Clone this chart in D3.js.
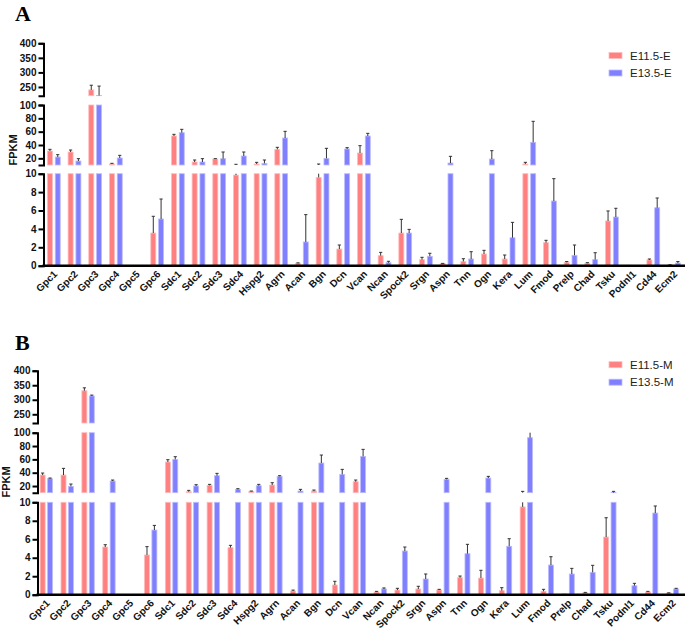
<!DOCTYPE html>
<html>
<head>
<meta charset="utf-8">
<script src="https://cdn.jsdelivr.net/npm/d3@7"></script>
<style>
  body { margin: 0; background: #fff; }
  svg { display: block; }
  .tick text { font-family: Arial, "Liberation Sans", sans-serif; font-weight: bold; font-size: 10px; fill: #111; }
</style>
</head>
<body>
<svg id="chart" width="685" height="633"></svg>
<script>
const genes = ["Gpc1","Gpc2","Gpc3","Gpc4","Gpc5","Gpc6","Sdc1","Sdc2","Sdc3","Sdc4","Hspg2","Agrn","Acan","Bgn","Dcn","Vcan","Ncan","Spock2","Srgn","Aspn","Tnn","Ogn","Kera","Lum","Fmod","Prelp","Chad","Tsku","Podnl1","Cd44","Ecm2"];

// Panel A (E)
const e11E    = [31,29.5,240,11.5,0,3.55,53.5,14.5,19,9.85,11.5,33.5,0.26,9.6,1.81,28,1.09,3.55,0.66,0.22,0.47,1.27,0.73,11.5,2.5,0.37,0.26,4.86,0.05,0.62,0.08];
const e11EErr = [2.5,3,16,1,0,1.82,2.5,3,0.5,1.2,2.5,3,0.05,1.9,0.44,11,0.36,1.49,0.25,0.03,0.29,0.4,0.43,2.5,0.26,0.08,0.07,1.09,0,0.11,0.02];
const e13E    = [22,16,221,20.5,0,5.08,58.5,14.5,19.5,23.5,12.5,50.5,2.58,20,34,53.5,0.33,3.55,1.02,13,0.73,19,3.04,44,7.03,1.13,0.66,5.29,0.02,6.3,0.29];
const e13EErr = [3.5,3.5,32,4,0,2.17,5,5,10,6,5,10,2.97,15,2,4,0.15,0.4,0.33,10,0.79,12.5,1.67,31.5,2.43,1.12,0.75,0.95,0,1.06,0.16];

// Panel B (M)
const e11M    = [36.5,36.5,331,5.16,0,4.3,56,11.5,21,5.09,12,21.5,0.4,12.5,1.05,26.5,0.29,0.51,0.62,0.51,1.84,1.8,0.44,9.5,0.37,0.1,0.2,6.24,0,0.29,0.18];
const e11MErr = [3,10,10,0.25,0,0.9,3.5,2,1.5,0.25,0.5,3.5,0.1,1.5,0.4,2.5,0.07,0.18,0.29,0.07,0.18,0.84,0.32,2.5,0.21,0,0.05,2.09,0,0.07,0.02];
const e13M    = [31,19.5,313,27.5,0,7.0,60,20,35.5,15,20.5,34.5,12.5,54.5,37.5,64.5,0.62,4.73,1.7,30,4.44,32,5.24,92.5,3.21,2.24,2.42,10.2,0.97,8.84,0.62];
const e13MErr = [1,3.5,3,1.5,0,0.5,4,2,3.5,1,2,1,2.5,12,7.5,10.5,0.11,0.43,0.54,1.5,1.01,2.5,0.82,8,0.9,0.61,0.76,1.8,0.26,0.76,0.07];

const seriesColors = ["#ff8080", "#8080ff"];
const seriesStroke = ["#ffbcbc", "#bcbcff"];

// y-axis segments (values)
const topTicks = [250,300,350,400];
const midTicks = [20,40,60,80,100];
const lowTicks = [0,2,4,6,8,10];

const svg = d3.select("#chart");

function panel(cfg) {
  const g = svg.append("g");
  const x = d3.scaleBand().domain(genes).range(cfg.xRange).padding(0);
  const segs = [
    { y: d3.scaleLinear().domain([220, 400]).range(cfg.top), ticks: topTicks },
    { y: d3.scaleLinear().domain([10, 100]).range(cfg.mid), ticks: midTicks },
    { y: d3.scaleLinear().domain([0, 10]).range(cfg.low), ticks: lowTicks }
  ];
  const series = [
    { v: cfg.s1, e: cfg.s1e, off: -cfg.barOff, c: 0 },
    { v: cfg.s2, e: cfg.s2e, off: cfg.barOff, c: 1 }
  ];
  const bw = cfg.barW;

  segs.forEach(seg => {
    const [d0, d1] = seg.y.domain();
    series.forEach(s => {
      const bars = genes.map((gname, i) => ({ g: gname, v: s.v[i], e: s.e[i] }))
        .filter(d => d.v > d0);
      g.append("g").selectAll("rect").data(bars).join("rect")
        .attr("x", d => x(d.g) + x.bandwidth() / 2 + s.off - bw / 2)
        .attr("width", bw)
        .attr("y", d => seg.y(Math.min(d.v, d1)))
        .attr("height", d => seg.y(d0) - seg.y(Math.min(d.v, d1)))
        .attr("fill", seriesColors[s.c])
        .attr("stroke", seriesStroke[s.c])
        .attr("stroke-width", 0.8);
      // error bars
      const errs = genes.map((gname, i) => ({ g: gname, v: s.v[i], e: s.e[i] }))
        .filter(d => d.e > 0 && d.v + d.e > d0 && d.v < d1);
      const eg = g.append("g").attr("stroke", "#333").attr("stroke-width", 1);
      errs.forEach(d => {
        const cx = x(d.g) + x.bandwidth() / 2 + s.off;
        const ylo = seg.y(Math.max(d.v, d0));
        const hiV = Math.min(d.v + d.e, d1);
        const yhi = seg.y(hiV);
        eg.append("line").attr("x1", cx).attr("x2", cx).attr("y1", ylo).attr("y2", yhi);
        if (d.v + d.e <= d1) {
          eg.append("line").attr("x1", cx - 1.6).attr("x2", cx + 1.6).attr("y1", yhi).attr("y2", yhi);
        }
      });
    });
    // axis segment
    const ax = g.append("g").attr("transform", `translate(${cfg.axisX},0)`)
      .call(d3.axisLeft(seg.y).tickValues(seg.ticks).tickSize(5).tickSizeOuter(5).tickPadding(2));
    ax.select(".domain").attr("stroke", "#000").attr("stroke-width", 2);
    ax.selectAll(".tick line").attr("stroke", "#000").attr("stroke-width", 2);
  });

  // x axis
  const xa = g.append("g").attr("transform", `translate(0,${cfg.low[0]})`)
    .call(d3.axisBottom(x).tickSize(0).tickFormat(""));
  xa.select(".domain").remove();
  g.append("line").attr("x1", cfg.axisX - 1).attr("x2", 685)
    .attr("y1", cfg.low[0]).attr("y2", cfg.low[0])
    .attr("stroke", "#000").attr("stroke-width", 2.5);

  g.append("g").selectAll("text").data(genes).join("text")
    .attr("transform", d => `translate(${x(d) + x.bandwidth() / 2 + 4},${cfg.low[0] + 9}) rotate(-45)`)
    .attr("text-anchor", "end")
    .attr("font-family", "Arial, 'Liberation Sans', sans-serif")
    .attr("font-weight", "bold")
    .attr("font-size", 10)
    .attr("fill", "#111")
    .text(d => d);

  // y title
  g.append("text")
    .attr("transform", `translate(${cfg.titleX},${cfg.titleY}) rotate(-90)`)
    .attr("text-anchor", "middle")
    .attr("font-family", "Arial, 'Liberation Sans', sans-serif")
    .attr("font-weight", "bold")
    .attr("font-size", 11)
    .attr("fill", "#111")
    .text("FPKM");

  // panel letter
  g.append("text")
    .attr("x", cfg.letterX).attr("y", cfg.letterY)
    .attr("font-family", "'Times New Roman', 'Liberation Serif', serif")
    .attr("font-weight", "bold")
    .attr("font-size", 22)
    .attr("fill", "#000")
    .text(cfg.letter);

  // legend
  cfg.legend.forEach((lab, i) => {
    const ly = cfg.legendY + i * 17.5;
    g.append("rect").attr("x", 609).attr("y", ly - 3).attr("width", 13).attr("height", 6)
      .attr("fill", seriesColors[i]).attr("stroke", seriesStroke[i]).attr("stroke-width", 0.8);
    g.append("text").attr("x", 630).attr("y", ly + 4)
      .attr("font-family", "Arial, 'Liberation Sans', sans-serif")
      .attr("font-size", 11.5).attr("fill", "#222").text(lab);
  });
}

panel({
  letter: "A", letterX: 15, letterY: 21,
  xRange: [43.5, 684.3], axisX: 43.5, barW: 5, barOff: 3.9,
  top: [95.7, 43.3], mid: [165, 105], low: [265.7, 173.7],
  s1: e11E, s1e: e11EErr, s2: e13E, s2e: e13EErr,
  titleX: 17, titleY: 150, legend: ["E11.5-E", "E13.5-E"], legendY: 55.5
});

panel({
  letter: "B", letterX: 15, letterY: 350,
  xRange: [35.9, 682.9], axisX: 37.5, barW: 5, barOff: 3.7,
  top: [423, 370.7], mid: [492.7, 432.7], low: [594.7, 502.3],
  s1: e11M, s1e: e11MErr, s2: e13M, s2e: e13MErr,
  titleX: 10, titleY: 482, legend: ["E11.5-M", "E13.5-M"], legendY: 364.7
});
</script>
</body>
</html>
